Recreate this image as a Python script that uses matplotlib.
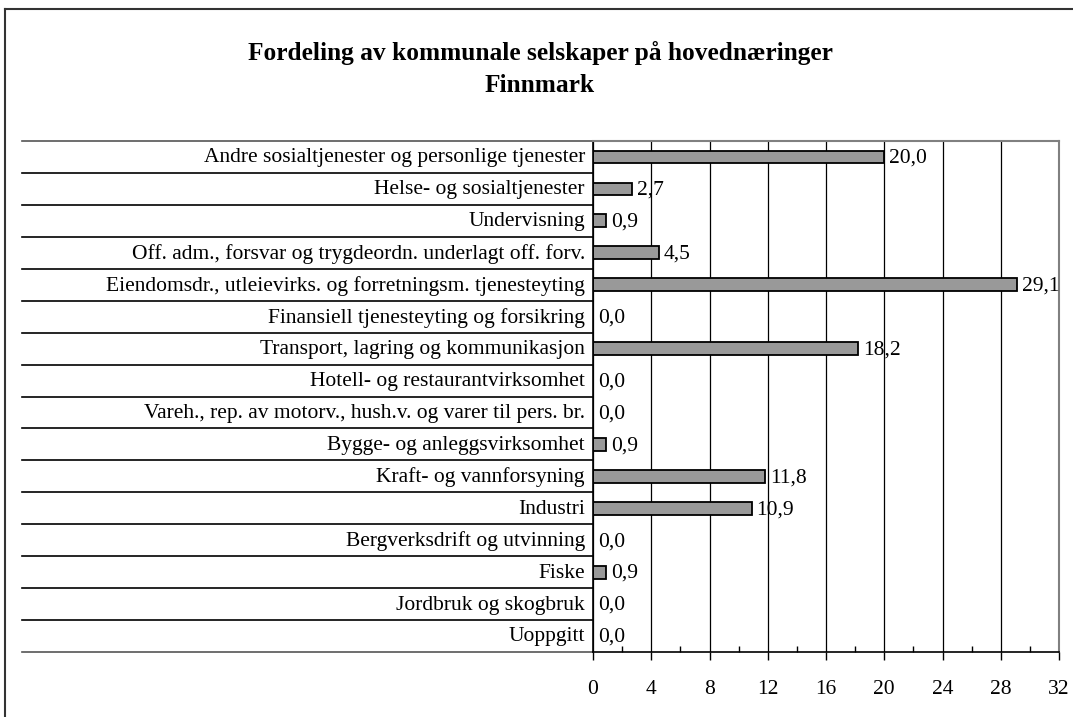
import matplotlib
matplotlib.use('Agg')
import matplotlib.pyplot as plt
import matplotlib.transforms as mtransforms
from matplotlib.ticker import MultipleLocator

plt.rcParams['font.family'] = ['Liberation Serif', 'DejaVu Serif']

# Næringer, fra toppen og nedover
naeringer = [
    "Andre sosialtjenester og personlige tjenester",
    "Helse- og sosialtjenester",
    "Undervisning",
    "Off. adm., forsvar og trygdeordn. underlagt off. forv.",
    "Eiendomsdr., utleievirks. og forretningsm. tjenesteyting",
    "Finansiell tjenesteyting og forsikring",
    "Transport, lagring og kommunikasjon",
    "Hotell- og restaurantvirksomhet",
    "Vareh., rep. av motorv., hush.v. og varer til pers. br.",
    "Bygge- og anleggsvirksomhet",
    "Kraft- og vannforsyning",
    "Industri",
    "Bergverksdrift og utvinning",
    "Fiske",
    "Jordbruk og skogbruk",
    "Uoppgitt",
]
andel = [20.0, 2.7, 0.9, 4.5, 29.1, 0.0, 18.2, 0.0, 0.0, 0.9, 11.8, 10.9, 0.0, 0.9, 0.0, 0.0]

tittel = "Fordeling av kommunale selskaper på hovednæringer\nFinnmark"

fs = 15.5

fig = plt.figure(figsize=(10.73, 7.17), dpi=100)
ax = fig.add_axes([593 / 1073, 1 - 652 / 717, 466 / 1073, 511 / 717])

n = len(naeringer)
pos = list(range(n))
ax.barh(pos, andel, height=0.4, color='#999999', edgecolor='black', linewidth=1.3)
ax.set_ylim(n - 0.5, -0.5)
ax.set_xlim(0, 32)

# verdietiketter med komma
for y, v in zip(pos, andel):
    ax.annotate(f"{v:.1f}".replace('.', ','), (v, y), xytext=(3.5, -1),
                textcoords='offset points', ha='left', va='center', fontsize=fs)

# rutenett og akser
ax.xaxis.set_major_locator(MultipleLocator(4))
ax.xaxis.set_minor_locator(MultipleLocator(2))
ax.grid(axis='x', which='major', color='black', linewidth=0.9)
ax.set_axisbelow(True)
ax.tick_params(axis='x', which='major', direction='out', length=6, width=1, pad=14, labelsize=fs)
ax.tick_params(axis='x', which='minor', direction='in', length=4, width=1)
ax.set_yticks([])
for s in ('top', 'right'):
    ax.spines[s].set_color('#808080')
    ax.spines[s].set_linewidth(1.5)
for s in ('left', 'bottom'):
    ax.spines[s].set_color('black')
    ax.spines[s].set_linewidth(1.2)

# kategorinavn og skillelinjer til venstre
trans = mtransforms.blended_transform_factory(ax.transAxes, ax.transData)
x_start = (22 - 593) / 466
for i in range(n + 1):
    farge = '#555555' if i in (0, n) else 'black'
    ax.plot([x_start, 0], [i - 0.5, i - 0.5], transform=trans, color=farge,
            linewidth=1.2, clip_on=False)
for y, navn in zip(pos, naeringer):
    ax.text(-8 / 466, y + 0.03, navn, transform=trans, ha='right', va='center', fontsize=fs)

fig.text(540 / 1073, 1 - 69 / 717, tittel, ha='center', va='center', fontsize=18.3,
         fontweight='bold', linespacing=1.5)

# ramme rundt diagrammet (bare venstre og topp synlig)
fig.add_artist(plt.Line2D([5 / 1073, 5 / 1073], [0, 1 - 9 / 717], color='#333333', linewidth=1.5))
fig.add_artist(plt.Line2D([5 / 1073, 1], [1 - 9 / 717, 1 - 9 / 717], color='#333333', linewidth=1.5))

fig.savefig('out.png', dpi=100)
